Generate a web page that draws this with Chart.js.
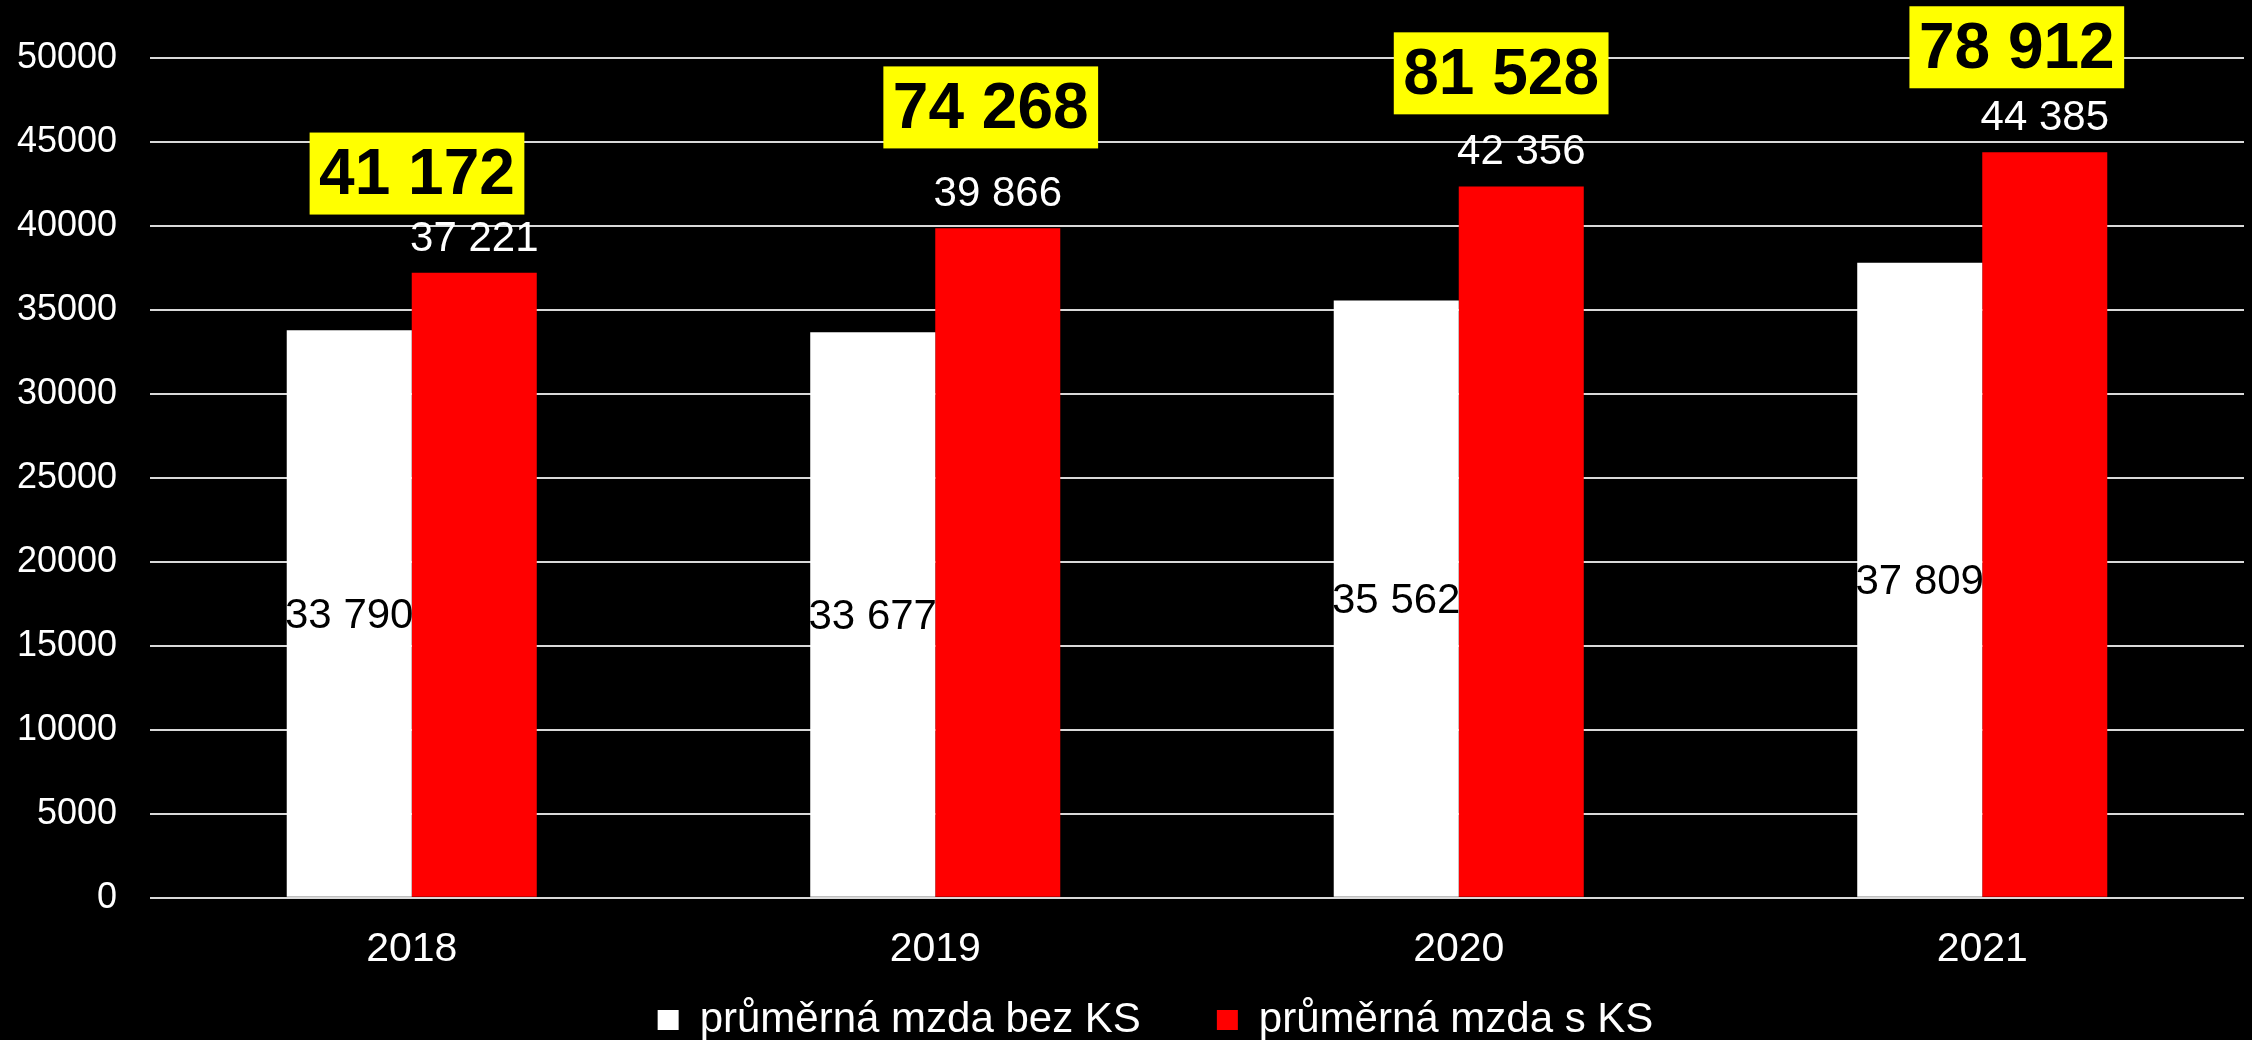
<!DOCTYPE html>
<html lang="cs">
<head>
    <meta charset="UTF-8">
    <title>Průměrná mzda</title>
    <script src="https://cdn.jsdelivr.net/npm/chart.js"></script>
    <style>
        html, body {
            margin: 0;
            padding: 0;
            background: #000;
        }
        #wrap {
            width: 2252px;
            height: 1040px;
        }
    </style>
</head>
<body>
    <div id="wrap"><canvas id="mzdaChart"></canvas></div>
    <script>
        // data
        var years = ['2018', '2019', '2020', '2021'];
        var mzdaBezKS = [33790, 33677, 35562, 37809];
        var mzdaSKS = [37221, 39866, 42356, 44385];
        var totals = [41172, 74268, 81528, 78912];
        var yTicks = [0, 5000, 10000, 15000, 20000, 25000, 30000, 35000, 40000, 45000, 50000];

        // where the yellow boxes sit (y in axis units, x as part of a category)
        var boxAnchorY = [43120, 47058, 49087, 50639];
        var boxShiftX = [0.01, 0.106, 0.081, 0.066];

        var FONT = "'Liberation Sans', Arial, sans-serif";

        function fmt(v) {
            return String(v).replace(/\B(?=(\d{3})+(?!\d))/g, ' ');
        }

        var labelsPlugin = {
            id: 'valueLabels',
            afterLayout: function(chart) {
                // legend in the original sits a little right of centre
                chart.legend.left += 26;
                chart.legend.right += 26;
            },
            afterDatasetsDraw: function(chart) {
                var ctx = chart.ctx;
                ctx.save();
                ctx.font = '42px ' + FONT;
                ctx.textAlign = 'center';
                chart.data.datasets.forEach(function(ds, di) {
                    var meta = chart.getDatasetMeta(di);
                    meta.data.forEach(function(bar, i) {
                        var txt = fmt(ds.data[i]);
                        if (di === 0) {
                            ctx.fillStyle = '#000';
                            ctx.textBaseline = 'middle';
                            ctx.fillText(txt, bar.x, (bar.y + bar.base) / 2 + 3);
                        } else {
                            ctx.fillStyle = '#fff';
                            ctx.textBaseline = 'alphabetic';
                            ctx.fillText(txt, bar.x, bar.y - 22);
                        }
                    });
                });
                ctx.restore();
            },
            afterDraw: function(chart) {
                var ctx = chart.ctx;
                var xs = chart.scales.x;
                var ys = chart.scales.y;
                var catW = xs.width / years.length;
                ctx.save();
                ctx.font = 'bold 64px ' + FONT;
                ctx.textAlign = 'center';
                ctx.textBaseline = 'middle';
                totals.forEach(function(v, i) {
                    var txt = fmt(v);
                    var cx = xs.getPixelForValue(i) + boxShiftX[i] * catW;
                    var cy = ys.getPixelForValue(boxAnchorY[i]);
                    var w = ctx.measureText(txt).width + 19;
                    var h = 82;
                    ctx.fillStyle = '#ffff00';
                    ctx.fillRect(cx - w / 2, cy - h / 2, w, h);
                    ctx.fillStyle = '#000';
                    ctx.fillText(txt, cx, cy + 3);
                });
                ctx.restore();
            }
        };

        Chart.defaults.font.family = FONT;
        Chart.defaults.color = '#fff';

        var ctx = document.getElementById('mzdaChart').getContext('2d');
        var mzdaChart = new Chart(ctx, {
            type: 'bar',
            data: {
                labels: years,
                datasets: [{
                    label: 'průměrná mzda bez KS',
                    data: mzdaBezKS,
                    backgroundColor: '#ffffff',
                    barPercentage: 1,
                    categoryPercentage: 0.4776
                }, {
                    label: 'průměrná mzda s KS',
                    data: mzdaSKS,
                    backgroundColor: '#ff0000',
                    barPercentage: 1,
                    categoryPercentage: 0.4776
                }]
            },
            options: {
                responsive: true,
                maintainAspectRatio: false,
                animation: false,
                layout: {
                    padding: { top: 58, right: 8, left: 15, bottom: -11 }
                },
                plugins: {
                    tooltip: { enabled: false },
                    legend: {
                        position: 'bottom',
                        labels: {
                            color: '#fff',
                            font: { size: 42 },
                            boxWidth: 21,
                            boxHeight: 20,
                            padding: 6,
                            generateLabels: function(chart) {
                                var items = Chart.defaults.plugins.legend.labels.generateLabels(chart);
                                // wider gap after the first entry, as in the original
                                items[0].text = items[0].text + '      ';
                                return items;
                            }
                        }
                    }
                },
                scales: {
                    x: {
                        grid: { display: false },
                        border: { display: false },
                        ticks: {
                            color: '#fff',
                            font: { size: 41 },
                            padding: 19
                        }
                    },
                    y: {
                        min: 0,
                        max: 50000,
                        afterBuildTicks: function(axis) {
                            axis.ticks = yTicks.map(function(v) { return { value: v }; });
                        },
                        afterFit: function(axis) { axis.width = 135; },
                        grid: {
                            color: '#d9d9d9',
                            lineWidth: 2,
                            drawTicks: false
                        },
                        border: { display: false },
                        ticks: {
                            color: '#fff',
                            font: { size: 36 },
                            padding: 33,
                            callback: function(v) { return String(v); }
                        }
                    }
                }
            },
            plugins: [labelsPlugin]
        });
    </script>
</body>
</html>
